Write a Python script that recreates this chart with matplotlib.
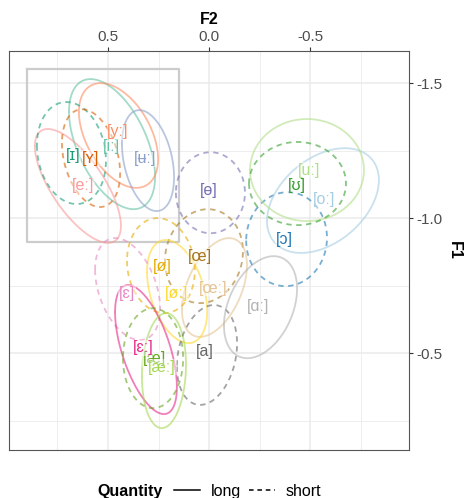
import numpy as np
import matplotlib
matplotlib.use("Agg")
import matplotlib.pyplot as plt
from matplotlib.lines import Line2D

plt.rcParams['font.family'] = ['Liberation Sans', 'DejaVu Sans']
plt.rcParams['axes.unicode_minus'] = False

# vowel categories
vowels = ['iː', 'yː', 'ʉː', 'eː', 'ɪ', 'ʏ', 'ɵ', 'œ', 'œː', 'ø', 'øː', 'ɛ', 'ɛː',
          'æː', 'æ', 'a', 'ɑː', 'ɔ', 'oː', 'uː', 'ʊ']
quantity = ['long', 'long', 'long', 'long', 'short', 'short', 'short', 'short', 'long', 'short', 'long',
            'short', 'long', 'long', 'short', 'short', 'long', 'short', 'long', 'long', 'short']
colors = ['#66c2a5', '#fc8d62', '#8da0cb', '#fb9a99', '#1b9e77', '#d95f02', '#7570b3', '#a6761d', '#e5c494',
          '#e6ab02', '#ffd92f', '#e78ac3', '#e7298a', '#a6d854', '#66a61e', '#666666', '#b3b3b3',
          '#1f78b4', '#a6cee3', '#b2df8a', '#33a02c']

# ellipse centres, half-widths (F2), half-heights (F1) and correlation
ell_f2 = [0.480, 0.448, 0.302, 0.649, 0.681, 0.584, -0.007, 0.025, -0.027, 0.238, 0.158, 0.403, 0.312,
          0.223, 0.277, 0.010, -0.255, -0.384, -0.564, -0.485, -0.438]
ell_f1 = [-1.274, -1.306, -1.213, -1.119, -1.241, -1.222, -1.094, -0.859, -0.743, -0.824, -0.728, -0.737,
          -0.513, -0.435, -0.481, -0.493, -0.670, -0.922, -1.065, -1.178, -1.128]
ell_w = [0.213, 0.196, 0.129, 0.213, 0.171, 0.144, 0.171, 0.193, 0.161, 0.168, 0.149, 0.161, 0.153,
         0.109, 0.149, 0.149, 0.181, 0.200, 0.277, 0.282, 0.240]
ell_h = [0.241, 0.194, 0.187, 0.211, 0.189, 0.181, 0.150, 0.174, 0.183, 0.176, 0.191, 0.189, 0.239,
         0.213, 0.185, 0.185, 0.189, 0.174, 0.194, 0.189, 0.154]
ell_r = [-0.50, -0.45, -0.33, -0.70, -0.15, -0.31, 0.0, 0.10, 0.45, -0.10, -0.38, -0.38, -0.58,
         0.10, 0.0, 0.23, 0.36, 0.03, 0.39, 0.0, 0.0]

# label positions (means)
lab_f2 = [0.485, 0.450, 0.317, 0.624, 0.673, 0.584, 0.000, 0.045, -0.020, 0.233, 0.163, 0.406, 0.327,
          0.233, 0.272, 0.020, -0.243, -0.371, -0.569, -0.495, -0.436]
lab_f1 = [-1.267, -1.319, -1.219, -1.119, -1.233, -1.222, -1.104, -0.859, -0.741, -0.822, -0.722, -0.722,
          -0.519, -0.448, -0.481, -0.504, -0.674, -0.922, -1.070, -1.178, -1.122]

# highlighted region
box_f2 = [0.90, 0.149]
box_f1 = [-1.552, -0.911]

fig = plt.figure(figsize=(4.67, 4.98), dpi=100)
ax = fig.add_axes([0.0193, 0.0964, 0.8565, 0.8012])

ax.set_xlim(0.99, -0.99)
ax.set_ylim(-0.141, -1.619)
ax.set_xticks([0.5, 0.0, -0.5])
ax.set_xticks([0.75, 0.25, -0.25, -0.75], minor=True)
ax.set_yticks([-1.5, -1.0, -0.5])
ax.set_yticks([-1.25, -0.75, -0.25], minor=True)
ax.xaxis.tick_top()
ax.xaxis.set_label_position('top')
ax.yaxis.tick_right()
ax.yaxis.set_label_position('right')
ax.grid(True, which='major', color='#ebebeb', lw=1.1)
ax.grid(True, which='minor', color='#ebebeb', lw=0.6)
ax.set_axisbelow(True)
ax.tick_params(which='major', length=3, width=0.8, color='#333333', labelcolor='#4d4d4d', labelsize=11, pad=2)
ax.tick_params(which='minor', length=0)
for s in ax.spines.values():
    s.set_color('#555555')
    s.set_linewidth(0.8)
ax.set_xlabel('F2', fontweight='bold', fontsize=11.5, labelpad=4)
ax.set_ylabel('F1', fontweight='bold', fontsize=11.5, rotation=270, labelpad=14)

ax.plot([box_f2[0], box_f2[1], box_f2[1], box_f2[0], box_f2[0]],
        [box_f1[0], box_f1[0], box_f1[1], box_f1[1], box_f1[0]], color='#cccccc', lw=1.6, zorder=1)

t = np.linspace(0, 2 * np.pi, 200)
for i in range(len(vowels)):
    x = ell_f2[i] + ell_w[i] * np.cos(t)
    y = ell_f1[i] + ell_h[i] * (ell_r[i] * np.cos(t) + np.sqrt(1 - ell_r[i] ** 2) * np.sin(t))
    ls = '-' if quantity[i] == 'long' else (0, (3, 2.5))
    ax.plot(x, y, color=colors[i], lw=1.3, ls=ls, alpha=0.6, zorder=2)

order = [i for i in range(len(vowels)) if quantity[i] == 'short'] + \
        [i for i in range(len(vowels)) if quantity[i] == 'long']
for i in order:
    ax.text(lab_f2[i], lab_f1[i], '[' + vowels[i] + ']', color=colors[i], fontsize=11.5,
            ha='center', va='center', zorder=3,
            bbox=dict(facecolor='white', alpha=0.45, edgecolor='none', pad=0.6))

fig.text(97 / 467, 0.014, 'Quantity', fontweight='bold', fontsize=11.5, ha='left', va='center')
handles = [Line2D([], [], color='black', lw=1.1, ls='-'),
           Line2D([], [], color='black', lw=1.1, ls=(0, (3, 2.5)))]
fig.legend(handles, ['long', 'short'], ncol=2, frameon=False, loc='center left',
           bbox_to_anchor=(174 / 467, 0.014), fontsize=11.5, handlelength=1.6,
           handletextpad=0.7, columnspacing=0.5, borderaxespad=0, borderpad=0)

fig.savefig('out.png', dpi=100)
